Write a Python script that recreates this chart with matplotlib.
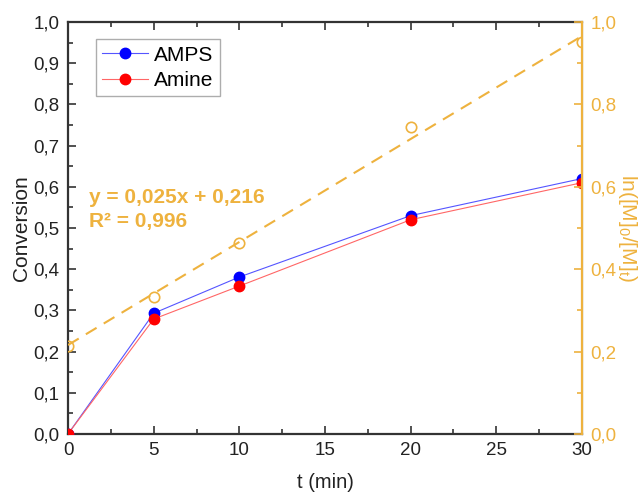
import numpy as np
import matplotlib
matplotlib.use('Agg')
import matplotlib.pyplot as plt
from matplotlib.ticker import MultipleLocator, FuncFormatter

plt.rcParams['font.family'] = ['Liberation Sans', 'DejaVu Sans']
plt.rcParams['mathtext.fontset'] = 'custom'
plt.rcParams['mathtext.rm'] = 'Liberation Sans'
plt.rcParams['mathtext.it'] = 'Liberation Sans'

# data
t = [0, 5, 10, 20, 30]
amps = [0.0, 0.293, 0.381, 0.53, 0.62]
amine = [0.0, 0.279, 0.359, 0.52, 0.61]
ln_ratio = [0.214, 0.333, 0.463, 0.745, 0.951]
slope, intercept = 0.025, 0.216
fit_text = "y = 0,025x + 0,216\nR² = 0,996"

orange = '#EEB23E'
dark = '#333333'

comma = FuncFormatter(lambda v, p: ('%.1f' % v).replace('.', ','))

fig = plt.figure(figsize=(6.44, 4.92), dpi=100)
ax = fig.add_axes([0.1056, 0.1179, 0.7981, 0.8374])
ax2 = ax.twinx()

ax.plot(t, amps, color='#5555ff', lw=0.8, marker='o', ms=7.5, mfc='blue',
        mec='blue', label='AMPS', zorder=3)
ax.plot(t, amine, color='#ff6666', lw=0.8, marker='o', ms=7.5, mfc='red',
        mec='red', label='Amine', zorder=4)

tf = np.array([0, 30])
ax2.plot(tf, slope * tf + intercept, color=orange, lw=1.5, ls=(0, (6, 4)))
ax2.plot(t, ln_ratio, ls='none', marker='o', ms=7.5, mfc='none', mec=orange, mew=1.2)

ax.set_xlim(0, 30)
ax.set_ylim(0, 1.0)
ax2.set_ylim(0, 1.0)

ax.xaxis.set_major_locator(MultipleLocator(5))
ax.xaxis.set_minor_locator(MultipleLocator(2.5))
ax.yaxis.set_major_locator(MultipleLocator(0.1))
ax.yaxis.set_minor_locator(MultipleLocator(0.05))
ax.yaxis.set_major_formatter(comma)
ax2.yaxis.set_major_locator(MultipleLocator(0.2))
ax2.yaxis.set_minor_locator(MultipleLocator(0.1))
ax2.yaxis.set_major_formatter(comma)

ax.tick_params(which='both', direction='in', top=True, right=False, colors=dark,
               labelcolor='#222222', labelsize=13.5, width=1.2, pad=6)
ax.tick_params(which='major', length=6)
ax.tick_params(which='minor', length=3.5)
ax2.tick_params(which='both', direction='in', colors=orange, labelcolor=orange,
                labelsize=13.5, width=1.2, pad=6)
ax2.tick_params(which='major', length=6)
ax2.tick_params(which='minor', length=3.5)

for s in ['left', 'bottom', 'top']:
    ax.spines[s].set_color(dark)
    ax.spines[s].set_linewidth(1.6)
ax2.spines['right'].set_color(orange)
ax2.spines['right'].set_linewidth(1.6)
for s in ['left', 'bottom', 'top']:
    ax2.spines[s].set_visible(False)

ax.set_xlabel('t (min)', fontsize=14.5, color='#222222', labelpad=10)
ax.set_ylabel('Conversion', fontsize=15, color='#222222', labelpad=2)
ax2.set_ylabel('ln([M]$_0$/[M]$_t$)', fontsize=15, color=orange, rotation=270,
               labelpad=16)

ax.text(0.04, 0.545, fit_text, transform=ax.transAxes, color=orange,
        fontsize=15, fontweight='bold', va='center', linespacing=1.3)

leg = ax.legend(loc='upper left', bbox_to_anchor=(0.054, 0.958), fontsize=15,
                frameon=True, fancybox=False, edgecolor='#999999',
                handlelength=2.2, borderpad=0.3, labelspacing=0.3,
                handletextpad=0.3, borderaxespad=0)
leg.get_frame().set_linewidth(1.0)

fig.savefig('out.png', dpi=100)
